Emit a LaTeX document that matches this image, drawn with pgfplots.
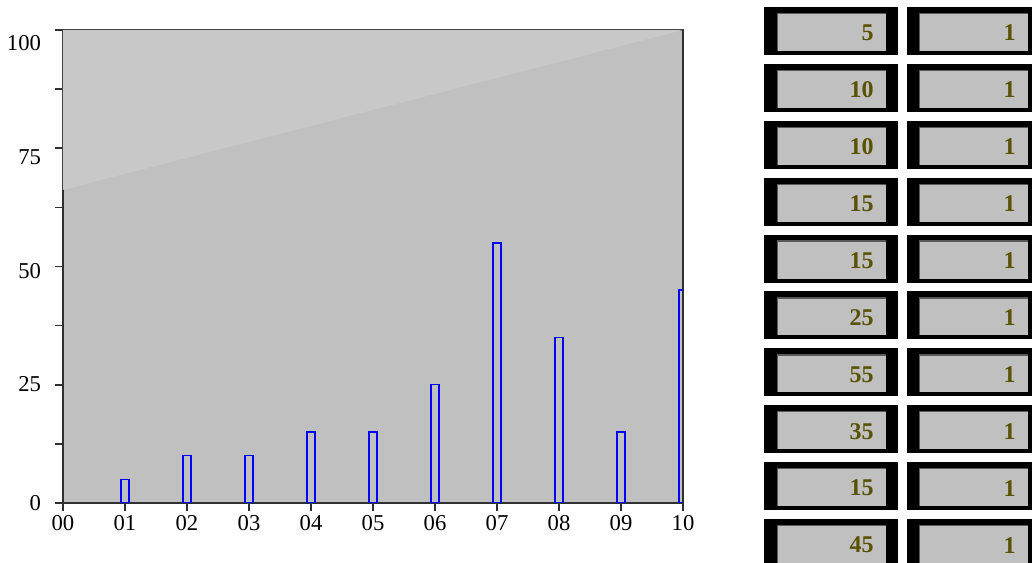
\documentclass[border=0pt]{standalone}
\usepackage{pgfplots}
\pgfplotsset{compat=1.18}
\usepackage{pgfplotstable}
\usepackage{fontspec}
\setmainfont{Liberation Serif}
\definecolor{bggray}{HTML}{C0C0C0}
\definecolor{lightbg}{HTML}{C8C8C8}
\definecolor{olivetxt}{HTML}{595200}
\definecolor{axisgray}{HTML}{303030}
\pgfplotstableread{
x y
1 5
2 10
3 10
4 15
5 15
6 25
7 55
8 35
9 15
10 45
}\bardata
\begin{document}
\begin{tikzpicture}
\useasboundingbox (0,0) rectangle (774pt,422.25pt);
\begin{axis}[
  at={(47.25pt,45pt)}, anchor=south west,
  scale only axis, width=465pt, height=354.75pt,
  xmin=0, xmax=10, ymin=0, ymax=100,
  axis background/.style={fill=bggray},
  axis line style={axisgray, line width=1.3pt},
  tick pos=left, tick align=outside,
  major tick length=6pt, minor tick length=6pt,
  every tick/.style={axisgray, line width=1.2pt},
  xtick={0,...,10},
  xticklabels={00,01,02,03,04,05,06,07,08,09,10},
  ytick={0,25,50,75,100},
  minor ytick={12.5,37.5,62.5,87.5},
  yticklabels={0,
    \raisebox{-1pt}[8pt][0pt]{25},
    \raisebox{-5pt}[8pt][0pt]{50},
    \raisebox{-8.5pt}[8pt][0pt]{75},
    \raisebox{-11.5pt}[8pt][0pt]{100}},
  tick label style={font=\fontsize{17}{18}\selectfont},
  xticklabel style={yshift=0pt},
  yticklabel style={xshift=-7pt},
  clip=true,
]
\fill[lightbg] (axis cs:0,66.2) -- (axis cs:10,100) -- (axis cs:0,100) -- cycle;
\addplot[ybar, bar width=0.125, draw=blue, fill=none, line width=1.1pt] table[x=x,y=y]{\bardata};
\end{axis}
% side panel
\begin{scope}[x=0.75pt,y=-0.75pt,shift={(0,422.25pt)}]
\foreach \v [count=\i from 0] in {5,10,10,15,15,25,55,35,15,45}{
  \pgfmathsetmacro{\t}{7+\i*56.9}
  % column 1
  \fill[black] (764,\t) rectangle (898,\t+48);
  \fill[bggray] (777,\t+6) rectangle (886,\t+44);
  \draw[gray!70!black, line width=1pt] (777.5,\t+44) -- (777.5,\t+6.5) -- (886,\t+6.5);
  \node[anchor=east, text=olivetxt, font=\fontsize{18}{20}\selectfont\bfseries, inner sep=0pt] at (874,\t+26) {\v};
  % column 2
  \fill[black] (907,\t) rectangle (1036,\t+48);
  \fill[bggray] (919,\t+6) rectangle (1028,\t+44);
  \draw[gray!70!black, line width=1pt] (919.5,\t+44) -- (919.5,\t+6.5) -- (1028,\t+6.5);
  \node[anchor=east, text=olivetxt, font=\fontsize{18}{20}\selectfont\bfseries, inner sep=0pt] at (1016,\t+26) {1};
}
\end{scope}
\end{tikzpicture}
\end{document}
